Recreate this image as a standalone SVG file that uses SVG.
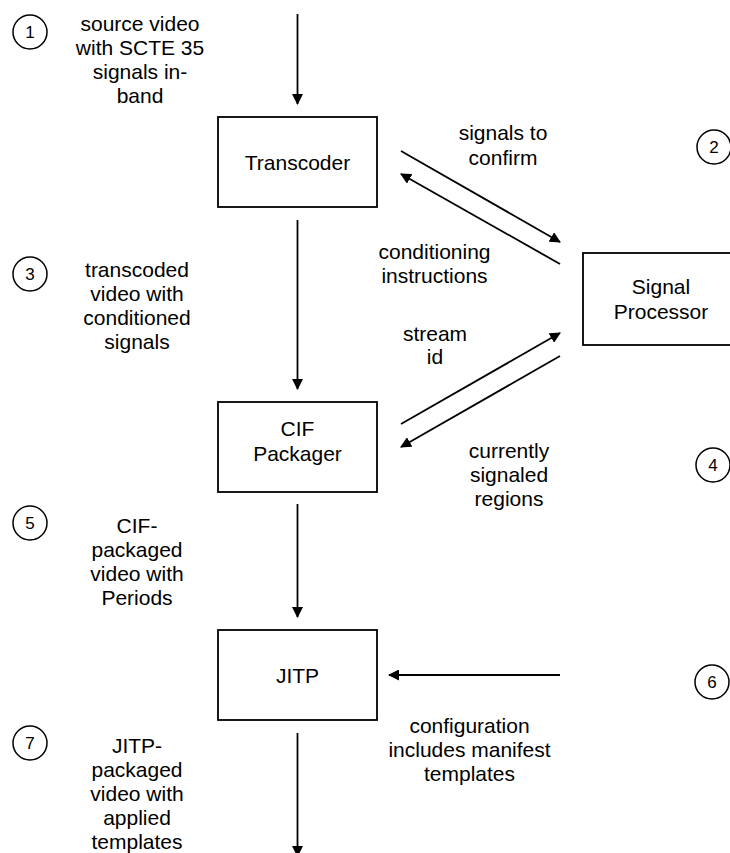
<svg xmlns="http://www.w3.org/2000/svg" width="730" height="853" viewBox="0 0 730 853">
  <style>
    text { font-family: "Liberation Sans", Arial, sans-serif; font-size: 21px; fill: #000; text-anchor: middle; }
    .box { fill: #fff; stroke: #000; stroke-width: 1.8; }
    .num circle { fill: #fff; stroke: #000; stroke-width: 1.5; }
    .num text { font-size: 17px; }
    .conn line { stroke: #000; stroke-width: 1.8; marker-end: url(#arrow); }
  </style>
  <defs>
    <marker id="arrow" markerUnits="userSpaceOnUse" viewBox="0 0 11 11" markerWidth="11" markerHeight="11" refX="10" refY="5.5" orient="auto">
      <path d="M0,0 L11,5.5 L0,11 z" fill="#000"/>
    </marker>
  </defs>

  <!-- processing nodes -->
  <g id="transcoder">
    <rect class="box" x="218" y="117" width="159" height="90"/>
    <text x="297.5" y="170">Transcoder</text>
  </g>
  <g id="signal-processor">
    <rect class="box" x="583" y="253" width="158" height="92"/>
    <text x="661" y="294">Signal</text>
    <text x="661" y="319">Processor</text>
  </g>
  <g id="cif-packager">
    <rect class="box" x="218" y="402" width="159" height="90"/>
    <text x="297.5" y="436">CIF</text>
    <text x="297.5" y="461">Packager</text>
  </g>
  <g id="jitp">
    <rect class="box" x="218" y="630" width="159" height="90"/>
    <text x="297.5" y="683">JITP</text>
  </g>

  <!-- step markers -->
  <g id="step-1" class="num"><circle cx="30" cy="32" r="17"/><text x="30" y="38">1</text></g>
  <g id="step-2" class="num"><circle cx="714" cy="147" r="17"/><text x="714" y="153">2</text></g>
  <g id="step-3" class="num"><circle cx="30" cy="274" r="17"/><text x="30" y="280">3</text></g>
  <g id="step-4" class="num"><circle cx="713" cy="465" r="17"/><text x="713" y="471">4</text></g>
  <g id="step-5" class="num"><circle cx="30" cy="523" r="17"/><text x="30" y="529">5</text></g>
  <g id="step-6" class="num"><circle cx="712" cy="682" r="17"/><text x="712" y="688">6</text></g>
  <g id="step-7" class="num"><circle cx="30" cy="743" r="17"/><text x="30" y="749">7</text></g>

  <!-- connectors -->
  <g id="connectors" class="conn">
    <line x1="297.5" y1="14" x2="297.5" y2="104"/>
    <line x1="297.5" y1="220" x2="297.5" y2="389"/>
    <line x1="297.5" y1="504" x2="297.5" y2="617"/>
    <line x1="297.5" y1="733" x2="297.5" y2="856"/>
    <line x1="401" y1="151" x2="560" y2="242"/>
    <line x1="560" y1="264" x2="401" y2="174"/>
    <line x1="401" y1="424" x2="560" y2="333"/>
    <line x1="560" y1="356" x2="401" y2="447"/>
    <line x1="560" y1="675" x2="389" y2="675"/>
  </g>

  <!-- connector labels -->
  <g id="labels">
    <text x="140" y="31">source video</text>
    <text x="140" y="55">with SCTE 35</text>
    <text x="140" y="79">signals in-</text>
    <text x="140" y="103">band</text>

    <text x="503" y="140">signals to</text>
    <text x="503" y="165">confirm</text>

    <text x="434.5" y="259">conditioning</text>
    <text x="434.5" y="283">instructions</text>

    <text x="137" y="277">transcoded</text>
    <text x="137" y="301">video with</text>
    <text x="137" y="325">conditioned</text>
    <text x="137" y="349">signals</text>

    <text x="435" y="341">stream</text>
    <text x="435" y="364">id</text>

    <text x="509" y="458">currently</text>
    <text x="509" y="482">signaled</text>
    <text x="509" y="506">regions</text>

    <text x="137" y="533">CIF-</text>
    <text x="137" y="557">packaged</text>
    <text x="137" y="581">video with</text>
    <text x="137" y="605">Periods</text>

    <text x="469.5" y="733">configuration</text>
    <text x="469.5" y="757">includes manifest</text>
    <text x="469.5" y="781">templates</text>

    <text x="137" y="753">JITP-</text>
    <text x="137" y="777">packaged</text>
    <text x="137" y="801">video with</text>
    <text x="137" y="825">applied</text>
    <text x="137" y="849">templates</text>
  </g>
</svg>
